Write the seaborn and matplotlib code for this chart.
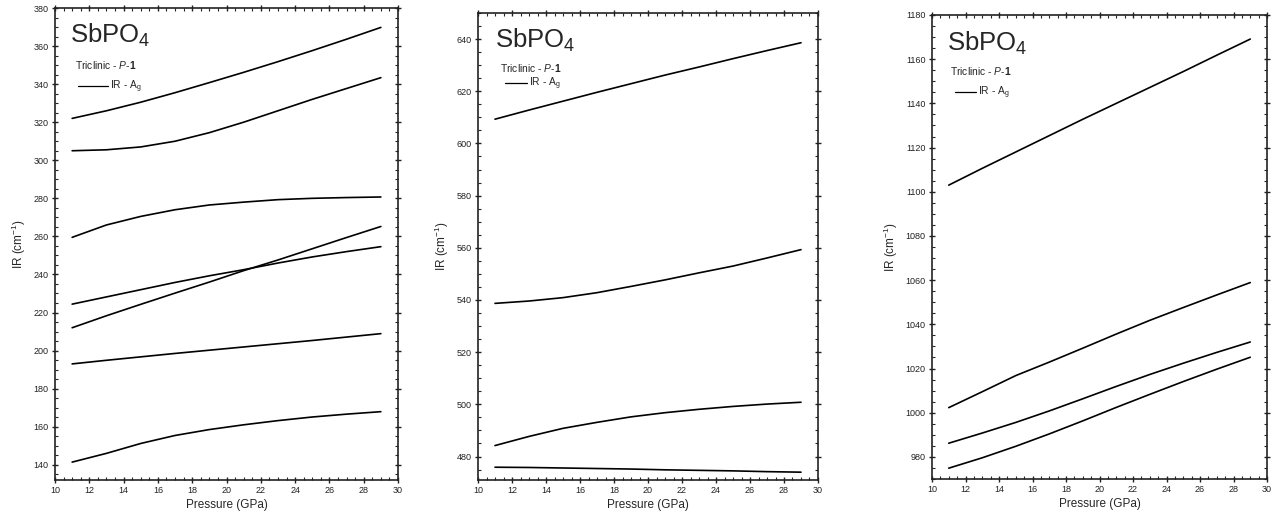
import numpy as np
import pandas as pd
import matplotlib
matplotlib.use("Agg")
import matplotlib.pyplot as plt
import seaborn as sns
from matplotlib.ticker import MultipleLocator, AutoMinorLocator
from matplotlib.lines import Line2D

# ---------------- data ----------------
pressure = [11, 13, 15, 17, 19, 21, 23, 25, 27, 29]

# left panel (IR modes, cm-1)
left_m1 = [322.0, 326.0, 330.5, 335.5, 340.8, 346.2, 351.8, 357.6, 363.6, 369.8]
left_m2 = [305.0, 305.5, 307.0, 310.0, 314.5, 320.0, 326.0, 332.0, 337.7, 343.4]
left_m3 = [259.5, 266.0, 270.5, 274.0, 276.5, 278.0, 279.3, 280.0, 280.4, 280.7]
left_m4 = [212.0, 218.3, 224.3, 230.2, 236.0, 242.0, 247.6, 253.5, 259.4, 265.2]
left_m5 = [224.4, 228.2, 232.0, 235.8, 239.3, 242.5, 246.0, 249.2, 252.0, 254.6]
left_m6 = [193.0, 194.9, 196.7, 198.5, 200.2, 201.9, 203.6, 205.3, 207.1, 208.9]
left_m7 = [141.4, 146.0, 151.2, 155.4, 158.5, 161.0, 163.2, 165.1, 166.6, 167.9]

# middle panel
mid_m1 = [609.3, 612.8, 616.2, 619.6, 622.9, 626.2, 629.3, 632.5, 635.6, 638.6]
mid_m2 = [538.7, 539.6, 540.9, 542.8, 545.2, 547.7, 550.4, 553.0, 556.1, 559.3]
mid_m3 = [484.2, 487.7, 490.8, 493.1, 495.2, 496.8, 498.1, 499.2, 500.1, 500.8]
mid_m4 = [475.9, 475.8, 475.6, 475.4, 475.2, 474.9, 474.7, 474.5, 474.2, 474.0]

# right panel
right_m1 = [1103.0, 1110.6, 1118.0, 1125.4, 1132.8, 1140.0, 1147.2, 1154.4, 1161.8, 1169.1]
right_m2 = [1002.3, 1009.5, 1016.8, 1022.9, 1029.2, 1035.6, 1041.8, 1047.6, 1053.3, 1058.9]
right_m3 = [986.2, 990.8, 995.6, 1000.8, 1006.3, 1011.9, 1017.3, 1022.4, 1027.3, 1032.0]
right_m4 = [974.9, 979.6, 984.8, 990.4, 996.3, 1002.4, 1008.3, 1014.1, 1019.7, 1025.1]

panels = [
    dict(modes=[left_m1, left_m2, left_m3, left_m4, left_m5, left_m6, left_m7],
         ylim=(132, 380), ymajor=20, xlim=(10, 30)),
    dict(modes=[mid_m1, mid_m2, mid_m3, mid_m4],
         ylim=(471, 650), ymajor=20, xlim=(10, 30)),
    dict(modes=[right_m1, right_m2, right_m3, right_m4],
         ylim=(970, 1180), ymajor=20, xlim=(10, 30)),
]

title_text = "SbPO$_4$"
phase_text = r"Triclinic - $\mathit{P}$-$\mathbf{1}$"
legend_label = "IR - A$_\mathregular{g}$"
xlabel = "Pressure (GPa)"
ylabel = "IR (cm$^{-1}$)"

# ---------------- style ----------------
sns.set_theme(style="ticks")
plt.rcParams["font.family"] = ["Liberation Sans", "DejaVu Sans"]
plt.rcParams["mathtext.fontset"] = "custom"
plt.rcParams["mathtext.rm"] = "Liberation Sans"
plt.rcParams["mathtext.it"] = "Liberation Sans:italic"
plt.rcParams["mathtext.bf"] = "Liberation Sans:bold"

fig = plt.figure(figsize=(12.86, 5.25), dpi=100)
fig.patch.set_facecolor("white")

W, H = 1286, 525
# axes boxes in pixels: (left, right, top, bottom)
boxes = [(55, 398, 8, 480), (478, 818, 13, 480), (932, 1267, 15, 479)]
# annotation placements (pixels)
annots = [
    dict(tx=70, ty=22, px=75, py=65, lx=78, ly=87, hl=2.9),
    dict(tx=495, ty=27, px=500, py=68, lx=505, ly=84, hl=2.1),
    dict(tx=947, ty=30, px=950, py=71, lx=955, ly=93, hl=2.0),
]

for p, box, an in zip(panels, boxes, annots):
    l, r, t, b = box
    ax = fig.add_axes([l / W, 1 - b / H, (r - l) / W, (b - t) / H])
    ax.set_facecolor("white")
    rows = []
    for i, m in enumerate(p["modes"]):
        for x, y in zip(pressure, m):
            rows.append((i, x, y))
    df = pd.DataFrame(rows, columns=["mode", "P", "IR"])
    sns.lineplot(data=df, x="P", y="IR", units="mode", estimator=None,
                 color="black", lw=1.2, ax=ax, legend=False)
    ax.set_xlim(*p["xlim"])
    ax.set_ylim(*p["ylim"])
    ax.xaxis.set_major_locator(MultipleLocator(2))
    ax.xaxis.set_minor_locator(AutoMinorLocator(4))
    ax.yaxis.set_major_locator(MultipleLocator(p["ymajor"]))
    ax.yaxis.set_minor_locator(AutoMinorLocator(4))
    ax.tick_params(which="major", direction="inout", length=5, width=1.0,
                   top=True, right=True, labelsize=6.5, pad=2, colors="#222222")
    ax.tick_params(which="minor", direction="in", length=2.5, width=0.8,
                   top=True, right=True)
    for s in ax.spines.values():
        s.set_linewidth(1.2)
        s.set_color("#222222")
    ax.set_xlabel(xlabel, fontsize=8.5, labelpad=3)
    ax.set_ylabel(ylabel, fontsize=8.5, labelpad=4)

    aw, ah = r - l, b - t
    ax.text((an["tx"] - l) / aw, 1 - (an["ty"] - t) / ah, title_text,
            transform=ax.transAxes, fontsize=18.5, ha="left", va="top")
    ax.text((an["px"] - l) / aw, 1 - (an["py"] - t) / ah, phase_text,
            transform=ax.transAxes, fontsize=7.4, ha="left", va="center")
    handle = Line2D([], [], color="black", lw=0.9)
    ax.legend([handle], [legend_label], loc="center left",
              bbox_to_anchor=((an["lx"] - l) / aw, 1 - (an["ly"] - t) / ah),
              frameon=False, fontsize=7.4, handlelength=an["hl"],
              handletextpad=0.2, borderpad=0, borderaxespad=0)

fig.savefig("out.png", dpi=100, facecolor="white")
